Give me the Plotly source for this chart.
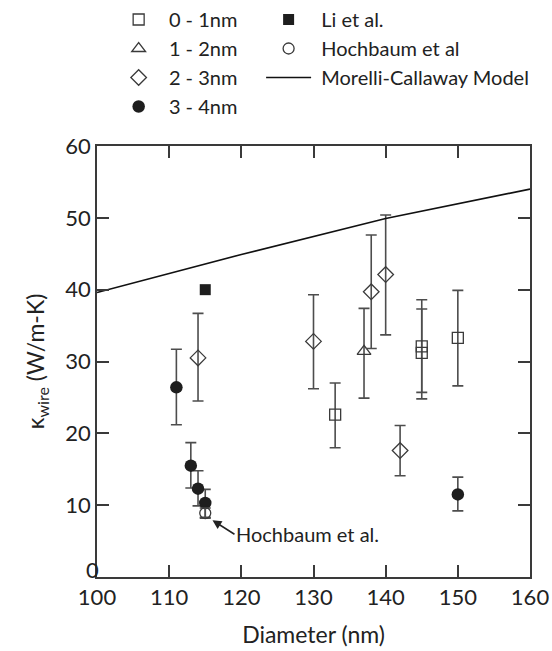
import plotly.graph_objects as go

FONT = "Lato"

# ---------------- data ----------------
# 0 - 1 nm (open squares)
sq_x = [133, 145, 145, 150]
sq_y = [22.6, 32.1, 31.2, 33.3]
sq_hi = [27.0, 38.6, 37.3, 39.9]
sq_lo = [18.0, 25.7, 24.8, 26.6]

# 1 - 2 nm (open triangle)
tri_x = [137]
tri_y = [31.4]
tri_hi = [37.4]
tri_lo = [24.9]

# 2 - 3 nm (open diamonds)
dia_x = [114, 130, 138, 140, 142]
dia_y = [30.5, 32.8, 39.7, 42.1, 17.6]
dia_hi = [36.7, 39.3, 47.6, 50.4, 21.1]
dia_lo = [24.5, 26.2, 31.8, 33.7, 14.1]

# 3 - 4 nm (filled circles)
cir_x = [111, 113, 114, 115, 150]
cir_y = [26.4, 15.5, 12.3, 10.3, 11.5]
cir_hi = [31.7, 18.7, 14.8, 12.2, 13.9]
cir_lo = [21.2, 12.4, 9.9, 8.3, 9.2]

# Li et al. (filled square)
li_x = [115]
li_y = [40.0]

# Hochbaum et al (open circle)
ho_x = [115]
ho_y = [8.9]
ho_hi = [9.6]
ho_lo = [8.2]

# Morelli-Callaway model
mc_x = [100, 120, 140, 160]
mc_y = [39.6, 44.9, 49.9, 54.0]

x_ticks = [100, 110, 120, 130, 140, 150, 160]
y_ticks = [10, 20, 30, 40, 50, 60]

EB_COLOR = "#4d4d4d"
MK_LINE = "#3a3a3a"
NB = "\u00a0"


def err(y, hi, lo):
    return dict(type="data", symmetric=False,
                array=[h - v for h, v in zip(hi, y)],
                arrayminus=[v - l for v, l in zip(y, lo)],
                color=EB_COLOR, thickness=1.6, width=5.5)


fig = go.Figure()

fig.add_trace(go.Scatter(
    x=sq_x, y=sq_y, mode="markers", name=NB * 2 + "0 - 1nm",
    marker=dict(symbol="square-open", size=11, color=MK_LINE, line=dict(width=1.3)),
    error_y=err(sq_y, sq_hi, sq_lo), legend="legend", legendgroup="a"))
fig.add_trace(go.Scatter(
    x=tri_x, y=tri_y, mode="markers", name=NB * 2 + "1 - 2nm",
    marker=dict(symbol="triangle-up-open", size=12, color=MK_LINE, line=dict(width=1.3)),
    error_y=err(tri_y, tri_hi, tri_lo), legend="legend", legendgroup="b"))
fig.add_trace(go.Scatter(
    x=dia_x, y=dia_y, mode="markers", name=NB * 2 + "2 - 3nm",
    marker=dict(symbol="diamond-open", size=12, color=MK_LINE, line=dict(width=1.3)),
    error_y=err(dia_y, dia_hi, dia_lo), legend="legend", legendgroup="c"))
fig.add_trace(go.Scatter(
    x=cir_x, y=cir_y, mode="markers", name=NB * 2 + "3 - 4nm",
    marker=dict(symbol="circle", size=12.5, color="#1e1e1e"),
    error_y=err(cir_y, cir_hi, cir_lo), legend="legend", legendgroup="d"))

fig.add_trace(go.Scatter(
    x=li_x, y=li_y, mode="markers", name=NB + "Li et al.",
    marker=dict(symbol="square", size=11, color="#1e1e1e"),
    legend="legend2", legendgroup="e"))
fig.add_trace(go.Scatter(
    x=ho_x, y=ho_y, mode="markers", name=NB + "Hochbaum et al",
    marker=dict(symbol="circle-open", size=11, color=MK_LINE, line=dict(width=1.3)),
    error_y=err(ho_y, ho_hi, ho_lo), legend="legend2", legendgroup="f"))
fig.add_trace(go.Scatter(
    x=mc_x, y=mc_y, mode="lines", name=NB + "Morelli-Callaway Model",
    line=dict(color="#111111", width=1.6),
    legend="legend2", legendgroup="g"))

# arrow with its label at the tail
fig.add_annotation(x=116.0, y=7.9, ax=22, ay=14, axref="pixel", ayref="pixel",
                   text="Hochbaum et al.", showarrow=True, arrowhead=2, arrowsize=1.2,
                   arrowwidth=1.5, arrowcolor="#222", xanchor="left", yanchor="middle",
                   font=dict(family=FONT, size=20, color="#222"))
# raised "0" label of the y axis
fig.add_annotation(x=0, xref="paper", y=0, yref="y", text="0", showarrow=False,
                   xanchor="center", yanchor="middle", xshift=-5, yshift=8,
                   font=dict(family=FONT, size=22, color="#222"))

axis_common = dict(
    showline=True, linecolor="#3a3a3a", linewidth=1.6,
    ticks="inside", ticklen=12, tickwidth=1.6, tickcolor="#3a3a3a",
    mirror="ticks", showgrid=False, zeroline=False, automargin=False,
    tickfont=dict(family=FONT, size=22, color="#222"),
)

fig.update_layout(
    width=552, height=651,
    paper_bgcolor="white", plot_bgcolor="white",
    margin=dict(l=97, r=22, t=146, b=74, autoexpand=False),
    font=dict(family=FONT, color="#222"),
    xaxis=dict(range=[100, 160], tickvals=x_ticks, **axis_common,
               title=dict(text="Diameter (nm)", font=dict(family=FONT, size=23, color="#222"),
                          standoff=18)),
    yaxis=dict(range=[0, 60], tickvals=y_ticks, **axis_common,
               title=dict(text="κ<sub>wire</sub> (W/m-K)", font=dict(family=FONT, size=23, color="#222"),
                          standoff=14)),
    legend=dict(x=0.05, y=1.0, xref="paper", yref="container", xanchor="left", yanchor="top",
                bgcolor="rgba(0,0,0,0)", font=dict(family=FONT, size=20, color="#222"),
                tracegroupgap=0, itemwidth=30),
    legend2=dict(x=0.379, y=1.0, xref="paper", yref="container", xanchor="left", yanchor="top",
                 bgcolor="rgba(0,0,0,0)", font=dict(family=FONT, size=20, color="#222"),
                 tracegroupgap=0, itemwidth=45),
    showlegend=True,
)

fig.write_html("out.html", config={"displayModeBar": False},
               post_script="document.body.style.margin='0px';")
